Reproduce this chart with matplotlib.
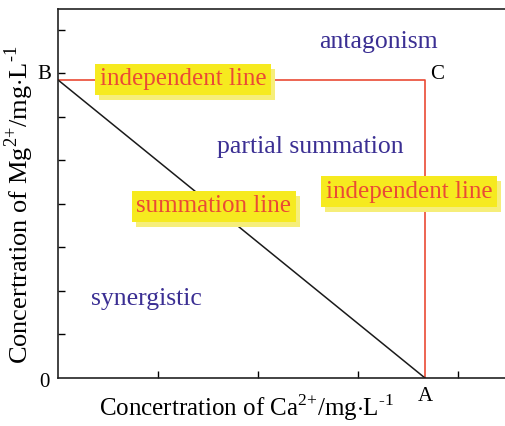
import matplotlib.pyplot as plt
import matplotlib.patheffects as pe

plt.rcParams['font.family'] = ['Liberation Serif', 'DejaVu Serif']
plt.rcParams['mathtext.fontset'] = 'custom'
plt.rcParams['mathtext.rm'] = 'Liberation Serif'

# corner points of the isobologram
point_names = ['B', 'C', 'A']
point_x = [0.0, 3.67, 3.67]
point_y = [6.85, 6.85, 0.0]

region_labels = ['antagonism', 'partial summation', 'synergistic']
region_x = [3.2, 2.52, 0.88]
region_y = [7.72, 5.31, 1.82]

line_labels = ['independent line', 'independent line', 'summation line']
line_label_x = [1.25, 3.51, 1.56]
line_label_y = [6.87, 4.28, 3.95]

fig = plt.figure(figsize=(5.06, 4.26), dpi=100)
ax = fig.add_axes([58/506, 48/426, 448/506, 369/426])

red = '#ea4a35'
ax.plot(point_x, point_y, color=red, lw=1.2)
ax.plot([point_x[0], point_x[2]], [point_y[0], point_y[2]], color='#1a1a1a', lw=1.1)

ax.set_xlim(0, 4.48)
ax.set_ylim(0, 8.48)
ax.set_xticks([1, 2, 3, 4])
ax.set_yticks(range(1, 9))
ax.tick_params(direction='in', length=5, width=1, labelleft=False, labelbottom=False)
ax.spines['right'].set_visible(False)
for s in ['left', 'bottom', 'top']:
    ax.spines[s].set_linewidth(1.2)
    ax.spines[s].set_color('#222222')

ax.set_xlabel('Concertration of Ca$^{\\text{2+}}$/mg$\\cdot$L$^{\\text{-1}}$', fontsize=18)
ax.set_ylabel('Concertration of Mg$^{\\text{2+}}$/mg$\\cdot$L$^{\\text{-1}}$', fontsize=19)
ax.xaxis.set_label_coords(0.42, -0.04)
ax.yaxis.set_label_coords(-0.05, 0.47)

# point letters
ax.text(-0.07, point_y[0] + 0.12, point_names[0], fontsize=15, ha='right', va='center')
ax.text(point_x[1] + 0.05, point_y[1] + 0.12, point_names[1], fontsize=15, ha='left', va='center')
ax.text(point_x[2], -0.2, point_names[2], fontsize=15, ha='center', va='top')
ax.text(-0.08, -0.1, '0', fontsize=15, ha='right', va='center')

for t, x, y in zip(region_labels, region_x, region_y):
    ax.text(x, y, t, fontsize=18.5, color='#3b2f93', ha='center', va='center')

for t, x, y in zip(line_labels, line_label_x, line_label_y):
    txt = ax.text(x, y, t, fontsize=18, color=red, ha='center', va='center',
                  bbox=dict(boxstyle='square,pad=0.18', fc='#f6ea1f', ec='none'))
    txt.get_bbox_patch().set_path_effects(
        [pe.SimplePatchShadow(offset=(3, -3.6), shadow_rgbFace='#f6ee7a', alpha=1), pe.Normal()])

fig.savefig('out.png', dpi=100)
